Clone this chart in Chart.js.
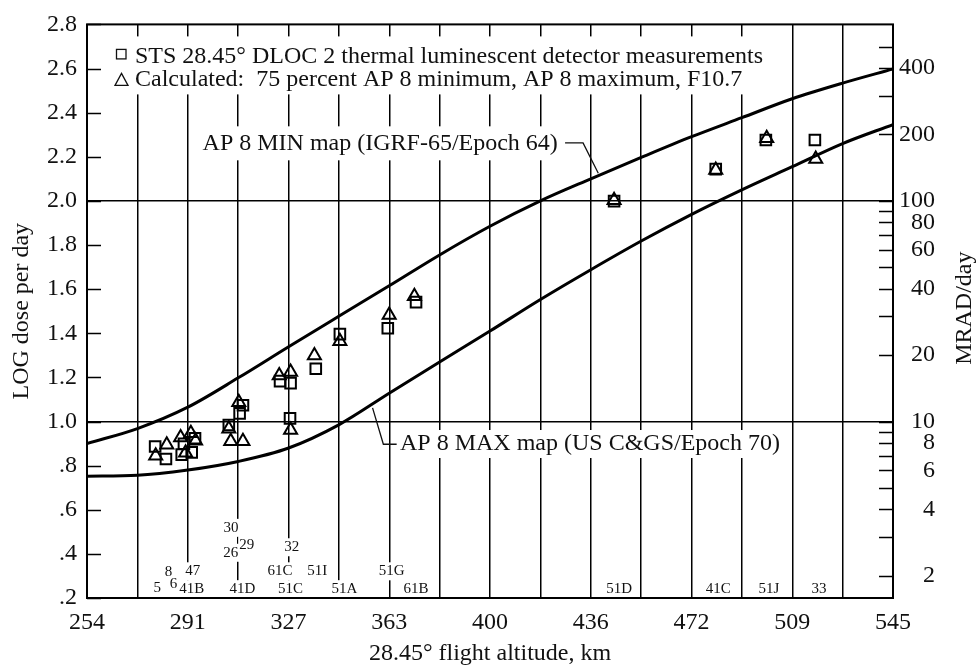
<!DOCTYPE html>
<html>
<head>
<meta charset="utf-8">
<script src="https://cdn.jsdelivr.net/npm/chart.js@4.4.1/dist/chart.umd.min.js"></script>
<style>
  html, body { margin: 0; padding: 0; background: #fff; }
  #wrap { width: 979px; height: 669px; }
</style>
</head>
<body>
<div id="wrap"><canvas id="doseChart" width="979" height="669"></canvas></div>
<script>
// ---------------------------------------------------------------
// Data
// ---------------------------------------------------------------
const xTickLabels = ['254', '291', '327', '363', '400', '436', '472', '509', '545'];
const leftTickValues = [0.2, 0.4, 0.6, 0.8, 1.0, 1.2, 1.4, 1.6, 1.8, 2.0, 2.2, 2.4, 2.6, 2.8];
const leftTickLabels = ['.2', '.4', '.6', '.8', '1.0', '1.2', '1.4', '1.6', '1.8', '2.0', '2.2', '2.4', '2.6', '2.8'];
const gridLineValues = [1.0, 2.0];
const mradTicks = [2, 3, 4, 5, 6, 7, 8, 9, 10, 20, 30, 40, 50, 60, 70, 80, 90, 100, 200, 300, 400, 500];
const mradLabelled = [2, 4, 6, 8, 10, 20, 40, 60, 80, 100, 200, 400];

// model curves (km, log dose)
const curveAlt = [254, 272.2, 290.4, 308.6, 326.8, 344.9, 363.1, 381.3, 399.5, 417.7, 435.9, 454.1, 472.3, 490.4, 508.6, 526.8, 545];
const minMapLog = [0.900, 0.968, 1.065, 1.198, 1.339, 1.477, 1.615, 1.755, 1.885, 2.000, 2.100, 2.197, 2.291, 2.377, 2.463, 2.534, 2.598];
const maxMapLog = [0.752, 0.756, 0.780, 0.819, 0.880, 0.985, 1.128, 1.270, 1.410, 1.553, 1.688, 1.818, 1.939, 2.050, 2.155, 2.260, 2.346];

// STS DLOC 2 measurements (squares)
const measuredAlt = [278.6, 282.5, 288.2, 289.0, 291.8, 293.0, 305.2, 309.1, 310.3, 323.7, 327.5, 327.3, 336.6, 345.3, 362.6, 372.8, 444.3, 481.0, 499.1, 516.8];
const measuredLog = [0.887, 0.830, 0.850, 0.899, 0.860, 0.924, 0.984, 1.037, 1.074, 1.183, 1.174, 1.014, 1.239, 1.396, 1.423, 1.541, 1.999, 2.144, 2.276, 2.276];

// calculated values (triangles)
const calcAlt = [278.8, 282.8, 287.8, 289.6, 291.5, 293.2, 305.2, 305.9, 308.8, 310.3, 323.4, 327.5, 327.5, 336.1, 345.3, 363.1, 372.2, 444.3, 481.0, 499.4, 517.1];
const calcLog = [0.845, 0.895, 0.928, 0.858, 0.947, 0.913, 0.967, 0.910, 1.087, 0.910, 1.209, 1.224, 0.962, 1.299, 1.364, 1.483, 1.568, 2.003, 2.140, 2.284, 2.190];

// flight numbers written near the bottom
const flightLabels = ['5', '6', '8', '47', '41B', '30', '26', '29', '41D', '32', '61C', '51C', '51I', '51A', '51G', '61B', '51D', '41C', '51J', '33'];
const flightLabelAlt = [279.4, 285.2, 283.4, 292.2, 291.8, 306.0, 305.9, 311.7, 310.1, 327.9, 323.7, 327.5, 337.1, 346.9, 364.0, 372.8, 446.1, 481.9, 500.2, 518.3];
const flightLabelLog = [0.243, 0.263, 0.318, 0.321, 0.240, 0.518, 0.405, 0.438, 0.240, 0.430, 0.321, 0.240, 0.321, 0.240, 0.321, 0.240, 0.240, 0.240, 0.240, 0.240];

const X_MIN = 254, X_MAX = 545;
const SERIF = '"Liberation Serif", "Times New Roman", serif';
const INK = '#111';

function toPoints(xs, ys) {
    return xs.map((x, i) => ({ x: x, y: ys[i] }));
}

// ---------------------------------------------------------------
// Plugin: legend box, curve labels, flight numbers, inward ticks
// ---------------------------------------------------------------
function whiteBox(ctx, text, px, py, align, padX, halfH) {
    const w = ctx.measureText(text).width;
    let left = px;
    if (align === 'center') left = px - w / 2;
    if (align === 'right') left = px - w;
    ctx.fillStyle = '#fff';
    ctx.fillRect(left - padX, py - halfH, w + padX * 2, halfH * 2);
}

function labelWithBox(ctx, text, px, py, align, padX, halfH) {
    whiteBox(ctx, text, px, py, align, padX, halfH);
    ctx.fillStyle = INK;
    ctx.textAlign = align;
    ctx.fillText(text, px, py);
}

const overlayPlugin = {
    id: 'overlay',
    beforeDraw(chart) {
        const ctx = chart.ctx;
        ctx.save();
        ctx.fillStyle = '#fff';
        ctx.fillRect(0, 0, chart.width, chart.height);
        ctx.restore();
    },
    beforeDatasetsDraw(chart) {
        const { ctx, chartArea: a, scales: { x, y } } = chart;
        ctx.save();

        // legend block
        ctx.fillStyle = '#fff';
        ctx.fillRect(a.left + 21, a.top + 12, 662, 58);
        ctx.strokeStyle = INK;
        ctx.lineWidth = 1.3;
        ctx.strokeRect(a.left + 29.5, a.top + 25, 9.5, 9.5);
        ctx.beginPath();
        ctx.moveTo(a.left + 34.5, a.top + 49);
        ctx.lineTo(a.left + 41, a.top + 61);
        ctx.lineTo(a.left + 28, a.top + 61);
        ctx.closePath();
        ctx.stroke();
        ctx.fillStyle = INK;
        ctx.font = '24px ' + SERIF;
        ctx.textAlign = 'left';
        ctx.textBaseline = 'alphabetic';
        ctx.fillText('STS 28.45\u00b0 DLOC 2 thermal luminescent detector measurements', a.left + 48, a.top + 39);
        ctx.fillText('Calculated:  75 percent AP 8 minimum, AP 8 maximum, F10.7', a.left + 48, a.top + 62);

        // curve labels with leader lines
        ctx.textBaseline = 'middle';
        labelWithBox(ctx, 'AP 8 MIN map (IGRF-65/Epoch 64)', x.getPixelForValue(424.0), y.getPixelForValue(2.261), 'right', 4, 17);
        labelWithBox(ctx, 'AP 8 MAX map (US C&GS/Epoch 70)', x.getPixelForValue(367.0), y.getPixelForValue(0.898), 'left', 4, 14);

        ctx.lineWidth = 1.3;
        ctx.beginPath();
        ctx.moveTo(x.getPixelForValue(426.6), y.getPixelForValue(2.263));
        ctx.lineTo(x.getPixelForValue(433.1), y.getPixelForValue(2.263));
        ctx.lineTo(x.getPixelForValue(438.6), y.getPixelForValue(2.125));
        ctx.stroke();
        ctx.beginPath();
        ctx.moveTo(x.getPixelForValue(365.8), y.getPixelForValue(0.897));
        ctx.lineTo(x.getPixelForValue(361.0), y.getPixelForValue(0.897));
        ctx.lineTo(x.getPixelForValue(357.1), y.getPixelForValue(1.062));
        ctx.stroke();

        // flight numbers: all backgrounds first, then the text
        ctx.font = '15px ' + SERIF;
        flightLabels.forEach((t, i) => {
            whiteBox(ctx, t, x.getPixelForValue(flightLabelAlt[i]), y.getPixelForValue(flightLabelLog[i]), 'center', 1, 9);
        });
        ctx.fillStyle = INK;
        ctx.textAlign = 'center';
        flightLabels.forEach((t, i) => {
            ctx.fillText(t, x.getPixelForValue(flightLabelAlt[i]), y.getPixelForValue(flightLabelLog[i]));
        });
        ctx.restore();
    },
    afterDatasetsDraw(chart) {
        const { ctx, chartArea: a, scales: { y } } = chart;
        ctx.save();
        ctx.strokeStyle = '#000';
        ctx.lineWidth = 1.5;
        ctx.beginPath();
        leftTickValues.forEach(v => {
            const py = Math.round(y.getPixelForValue(v)) + 0.5;
            ctx.moveTo(a.left, py);
            ctx.lineTo(a.left + 14, py);
        });
        mradTicks.forEach(m => {
            const py = Math.round(y.getPixelForValue(Math.log10(m))) + 0.5;
            ctx.moveTo(a.right - 14, py);
            ctx.lineTo(a.right, py);
        });
        ctx.stroke();
        ctx.lineWidth = 2;
        ctx.strokeRect(a.left, a.top, a.right - a.left, a.bottom - a.top);
        ctx.restore();
    },
    afterDraw(chart) {
        const { ctx, chartArea: a } = chart;
        ctx.save();
        ctx.fillStyle = INK;
        ctx.font = '24px ' + SERIF;
        ctx.textAlign = 'center';
        ctx.textBaseline = 'alphabetic';
        ctx.translate(971, (a.top + a.bottom) / 2 - 3);
        ctx.rotate(-Math.PI / 2);
        ctx.fillText('MRAD/day', 0, 0);
        ctx.restore();
    }
};

// ---------------------------------------------------------------
// Chart
// ---------------------------------------------------------------
const tickFont = { family: SERIF, size: 24 };

new Chart(document.getElementById('doseChart'), {
    type: 'scatter',
    data: {
        datasets: [
            {
                type: 'line',
                label: 'AP 8 MIN map',
                data: toPoints(curveAlt, minMapLog),
                borderColor: '#000',
                borderWidth: 3,
                pointRadius: 0,
                fill: false,
                cubicInterpolationMode: 'monotone'
            },
            {
                type: 'line',
                label: 'AP 8 MAX map',
                data: toPoints(curveAlt, maxMapLog),
                borderColor: '#000',
                borderWidth: 3,
                pointRadius: 0,
                fill: false,
                cubicInterpolationMode: 'monotone'
            },
            {
                label: 'STS 28.45° DLOC 2 measurements',
                data: toPoints(measuredAlt, measuredLog),
                pointStyle: 'rect',
                pointRadius: 7.5,
                borderWidth: 2,
                borderColor: '#000',
                backgroundColor: 'rgba(0,0,0,0)'
            },
            {
                label: 'Calculated',
                data: toPoints(calcAlt, calcLog),
                pointStyle: 'triangle',
                pointRadius: 7.5,
                borderWidth: 2,
                borderColor: '#000',
                backgroundColor: 'rgba(0,0,0,0)'
            }
        ]
    },
    options: {
        responsive: false,
        animation: false,
        devicePixelRatio: 1,
        layout: { padding: { top: 19, left: 0, right: 44, bottom: 0 } },
        plugins: {
            legend: { display: false },
            tooltip: { enabled: false }
        },
        scales: {
            x: {
                type: 'linear',
                min: X_MIN,
                max: X_MAX,
                afterBuildTicks: scale => {
                    const step = (X_MAX - X_MIN) / 16;
                    scale.ticks = Array.from({ length: 17 }, (_, i) => ({ value: X_MIN + i * step }));
                },
                afterFit: scale => { scale.height = 71; },
                ticks: {
                    autoSkip: false,
                    maxRotation: 0,
                    padding: 10,
                    color: INK,
                    font: tickFont,
                    callback: (v, i) => (i % 2 === 0 ? xTickLabels[i / 2] : '')
                },
                grid: { color: '#000', lineWidth: 1.5, drawTicks: false },
                border: { display: false },
                title: {
                    display: true,
                    text: '28.45\u00b0 flight altitude, km',
                    color: INK,
                    font: { family: SERIF, size: 24 },
                    padding: { top: 0, bottom: 1 }
                }
            },
            y: {
                type: 'linear',
                position: 'left',
                min: 0.2,
                max: 2.8,
                afterBuildTicks: scale => {
                    scale.ticks = leftTickValues.map(v => ({ value: v }));
                },
                afterFit: scale => { scale.width = 87; },
                ticks: {
                    autoSkip: false,
                    padding: 10,
                    color: INK,
                    font: tickFont,
                    callback: (v, i) => leftTickLabels[i]
                },
                grid: {
                    drawTicks: false,
                    lineWidth: 1.5,
                    color: c => (c.tick && gridLineValues.some(g => Math.abs(g - c.tick.value) < 1e-6)) ? '#000' : 'rgba(0,0,0,0)'
                },
                border: { display: false },
                title: {
                    display: true,
                    text: 'LOG dose per day',
                    color: INK,
                    font: { family: SERIF, size: 24 },
                    padding: { top: 7, bottom: 0 }
                }
            },
            y2: {
                type: 'linear',
                position: 'right',
                min: 0.2,
                max: 2.8,
                afterBuildTicks: scale => {
                    scale.ticks = mradTicks.map(m => ({ value: Math.log10(m) }));
                },
                afterFit: scale => { scale.width = 42; },
                ticks: {
                    autoSkip: false,
                    padding: 6,
                    crossAlign: 'far',
                    color: INK,
                    font: tickFont,
                    callback: (v, i) => (mradLabelled.includes(mradTicks[i]) ? String(mradTicks[i]) : '')
                },
                grid: { display: false, drawTicks: false },
                border: { display: false }
            }
        }
    },
    plugins: [overlayPlugin]
});
</script>
</body>
</html>
